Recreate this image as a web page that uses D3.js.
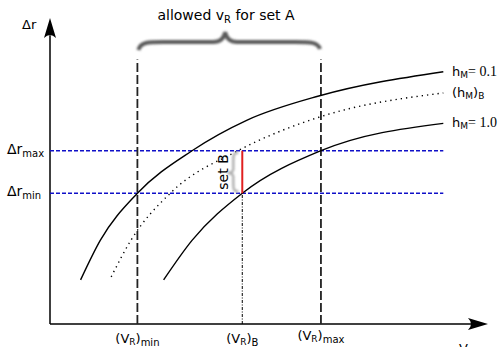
<!DOCTYPE html>
<html>
<head>
<meta charset="utf-8">
<script src="https://cdn.jsdelivr.net/npm/d3@7"></script>
<style>
  body { margin: 0; background: #fff; }
  text { font-family: "DejaVu Sans", sans-serif; fill: #000; }
</style>
</head>
<body>
<svg id="chart" width="500" height="347"></svg>
<script>
// schematic values, in axis units (0..10 on both axes)
const vMin = 2.0;
const vB = 4.4;
const vMax = 6.2;
const rMin = 4.3;
const rMax = 5.7;
const lineEnd = 9.0;
const dashTop = 8.7;

const curveLow = [[0.7, 1.45], [1.15, 2.75], [2.0, 4.3], [3.25, 5.7], [4.5, 6.7], [6.15, 7.5], [9.0, 8.3]];
const curveMid = [[1.4, 1.55], [1.85, 2.75], [2.75, 4.3], [4.3, 5.7], [6.15, 6.8], [9.0, 7.6]];
const curveHigh = [[2.6, 1.45], [3.25, 2.75], [4.4, 4.3], [6.2, 5.7], [9.0, 6.6]];

const curveLabels = [
    { main: "h", sub: "M", tail: "= 0.1", y: 8.3 },
    { main: "(h", sub: "M", tail: ")", sub2: "B", y: 7.6 },
    { main: "h", sub: "M", tail: "= 1.0", y: 6.6 }
];

const svg = d3.select("#chart");

const x = d3.scaleLinear().domain([0, 10]).range([50, 487]);
const y = d3.scaleLinear().domain([0, 10]).range([324, 20]);

const line = d3.line()
    .x(d => x(d[0]))
    .y(d => y(d[1]))
    .curve(d3.curveMonotoneX);

// blur for the braces
const defs = svg.append("defs");
defs.append("filter").attr("id", "soft")
    .attr("x", "-20%").attr("y", "-50%").attr("width", "140%").attr("height", "200%")
    .append("feGaussianBlur").attr("stdDeviation", 1.1);

// axes
svg.append("line")
    .attr("x1", x(0)).attr("y1", y(0))
    .attr("x2", x(0)).attr("y2", y(9.5))
    .attr("stroke", "#000").attr("stroke-width", 1.5);
svg.append("line")
    .attr("x1", x(0)).attr("y1", y(0))
    .attr("x2", x(9.7)).attr("y2", y(0))
    .attr("stroke", "#000").attr("stroke-width", 1.5);

// arrow heads
const yTip = [x(0), y(10) - 2];
svg.append("path")
    .attr("d", `M${yTip[0]},${yTip[1]} L${yTip[0] + 6},${yTip[1] + 20} Q${yTip[0]},${yTip[1] + 14} ${yTip[0] - 6},${yTip[1] + 20} Z`)
    .attr("fill", "#000");
const xTip = [x(10) + 1, y(0)];
svg.append("path")
    .attr("d", `M${xTip[0]},${xTip[1]} L${xTip[0] - 20},${xTip[1] - 6} Q${xTip[0] - 14},${xTip[1]} ${xTip[0] - 20},${xTip[1] + 6} Z`)
    .attr("fill", "#000");

// blue dashed levels
[rMax, rMin].forEach(r => {
    svg.append("line")
        .attr("x1", x(0)).attr("y1", y(r))
        .attr("x2", x(lineEnd)).attr("y2", y(r))
        .attr("stroke", "#1010c8").attr("stroke-width", 1.5)
        .attr("stroke-dasharray", "4,2");
});

// vertical dashed limits
[vMin, vMax].forEach(v => {
    svg.append("line")
        .attr("x1", x(v)).attr("y1", y(0))
        .attr("x2", x(v)).attr("y2", y(dashTop))
        .attr("stroke", "#222").attr("stroke-width", 1.8)
        .attr("stroke-dasharray", "9,3");
});

// vertical dash-dot at v_B
svg.append("line")
    .attr("x1", x(vB)).attr("y1", y(0))
    .attr("x2", x(vB)).attr("y2", y(rMin))
    .attr("stroke", "#000").attr("stroke-width", 1)
    .attr("stroke-dasharray", "3,1.5,1,1.5");

// curves
svg.append("path").datum(curveLow)
    .attr("d", line).attr("fill", "none")
    .attr("stroke", "#000").attr("stroke-width", 1.4);
svg.append("path").datum(curveMid)
    .attr("d", line).attr("fill", "none")
    .attr("stroke", "#000").attr("stroke-width", 1.4)
    .attr("stroke-dasharray", "1.3,4");
svg.append("path").datum(curveHigh)
    .attr("d", line).attr("fill", "none")
    .attr("stroke", "#000").attr("stroke-width", 1.4);

// red set B segment
svg.append("line")
    .attr("x1", x(vB)).attr("y1", y(rMax))
    .attr("x2", x(vB)).attr("y2", y(rMin))
    .attr("stroke", "#e02020").attr("stroke-width", 2);

// top brace over allowed range
const bl = x(vMin) + 1, br = x(vMax) - 1, bm = (bl + br) / 2 - 4, by = 42;
svg.append("path")
    .attr("d", `M${bl},${by + 8} C${bl + 2},${by} ${bl + 10},${by} ${bl + 25},${by}
                L${bm - 12},${by} C${bm - 4},${by} ${bm - 1},${by - 4} ${bm},${by - 10}
                C${bm + 1},${by - 4} ${bm + 4},${by} ${bm + 12},${by}
                L${br - 25},${by} C${br - 10},${by} ${br - 2},${by} ${br},${by + 7}`)
    .attr("fill", "none").attr("stroke", "#5a5a5a").attr("stroke-width", 4)
    .attr("filter", "url(#soft)");

// small brace for set B
const sx = x(vB) - 9, st = y(rMax) + 2, sb = y(rMin) - 2, sm = (st + sb) / 2 + 1;
svg.append("path")
    .attr("d", `M${sx + 5},${st} C${sx},${st} ${sx},${st + 3} ${sx},${st + 8}
                L${sx},${sm - 4} C${sx},${sm - 1} ${sx - 2},${sm} ${sx - 6},${sm}
                C${sx - 2},${sm} ${sx},${sm + 1} ${sx},${sm + 4}
                L${sx},${sb - 8} C${sx},${sb - 3} ${sx},${sb} ${sx + 5},${sb}`)
    .attr("fill", "none").attr("stroke", "#b0b0b0").attr("stroke-width", 2.5)
    .attr("filter", "url(#soft)");

svg.append("text")
    .attr("transform", `translate(${x(vB) - 14},${(y(rMax) + y(rMin)) / 2}) rotate(-90)`)
    .attr("text-anchor", "middle")
    .attr("font-size", 14)
    .text("set B");

// title
const title = svg.append("text")
    .attr("x", 226).attr("y", 20)
    .attr("text-anchor", "middle")
    .attr("font-size", 14);
title.append("tspan").text("allowed v");
title.append("tspan").attr("font-size", 10).attr("dy", 3).text("R");
title.append("tspan").attr("dy", -3).text(" for set A");

// y axis labels
svg.append("text").attr("x", 22).attr("y", 29).attr("font-size", 13).text("Δr");

[[rMax, "max"], [rMin, "min"]].forEach(([r, s]) => {
    const t = svg.append("text")
        .attr("x", 7).attr("y", y(r) + 3)
        .attr("font-size", 14);
    t.append("tspan").text("Δr");
    t.append("tspan").attr("font-size", 10).attr("dy", 3).text(s);
});

// x axis labels
[[vMin, "min", 343], [vB, "B", 343], [vMax, "max", 340]].forEach(([v, s, by]) => {
    const t = svg.append("text")
        .attr("x", x(v)).attr("y", by)
        .attr("text-anchor", "middle")
        .attr("font-size", 13);
    t.append("tspan").text("(V");
    t.append("tspan").attr("font-size", 9).attr("dy", 2).text("R");
    t.append("tspan").attr("dy", -2).text(")");
    t.append("tspan").attr("font-size", 10).attr("dy", 3).text(s);
});

const xl = svg.append("text").attr("x", 459).attr("y", 353).attr("font-size", 13);
xl.append("tspan").text("V");
xl.append("tspan").attr("font-size", 9).attr("dy", 2).text("R");

// curve labels
curveLabels.forEach(d => {
    const t = svg.append("text")
        .attr("x", 452).attr("y", y(d.y) + 4)
        .attr("font-size", 13);
    t.append("tspan").text(d.main);
    t.append("tspan").attr("font-size", 9).attr("dy", 2).text(d.sub);
    if (d.sub2) {
        t.append("tspan").attr("dy", -2).text(d.tail);
        t.append("tspan").attr("font-size", 9).attr("dy", 2).text(d.sub2);
    } else {
        t.append("tspan").attr("dy", -2)
            .attr("font-family", "Liberation Serif, serif")
            .attr("font-size", 14).text(d.tail);
    }
});
</script>
</body>
</html>
